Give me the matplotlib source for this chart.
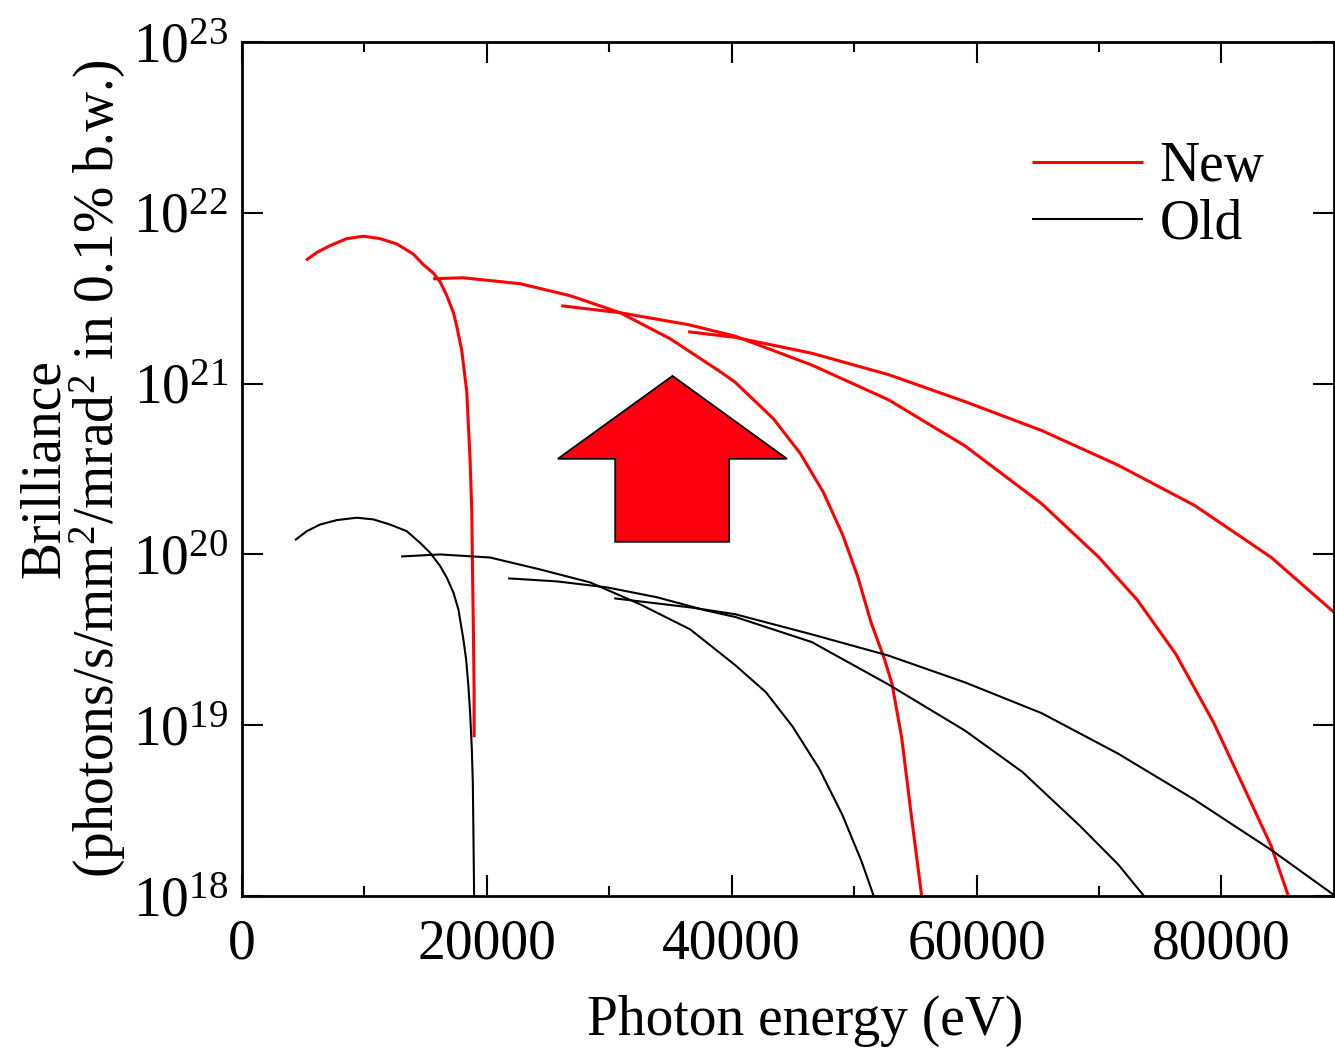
import numpy as np
import matplotlib
matplotlib.use('Agg')
import matplotlib.pyplot as plt
from matplotlib.ticker import FixedLocator, NullLocator, MultipleLocator
from matplotlib.patches import Polygon

plt.rcParams['font.family'] = ['Liberation Serif', 'DejaVu Serif']
plt.rcParams['mathtext.fontset'] = 'custom'
plt.rcParams['mathtext.rm'] = 'Liberation Serif'
plt.rcParams['mathtext.it'] = 'Liberation Serif:italic'
plt.rcParams['mathtext.default'] = 'regular'

# Data: photon energy (eV), log10 of brilliance
# New source, harmonics 1..4
new1_e = [5230, 6104, 7190, 8555, 9910, 11276, 12640, 13997, 14810, 15631, 16180, 16726,
          17270, 17543, 17950, 18083, 18360, 18492, 18630, 18769, 18820, 18900, 18957, 18957]
new1_lg = [21.722, 21.768, 21.808, 21.849, 21.863, 21.849, 21.818, 21.758, 21.697, 21.647, 21.596, 21.516,
           21.415, 21.335, 21.193, 21.113, 20.952, 20.751, 20.550, 20.247, 19.945, 19.543, 19.2, 18.93]

new2_e = [15610, 18060, 22720, 26800, 30890, 34970, 39060, 40283, 43413, 45603, 47474, 49042,
          50293, 51387, 52482, 53103, 53888, 54664, 55514]
new2_lg = [21.614, 21.620, 21.585, 21.515, 21.415, 21.263, 21.070, 21.008, 20.794, 20.591, 20.365, 20.118,
           19.870, 19.600, 19.386, 19.239, 18.924, 18.474, 18.0]

new3_e = [26070, 30890, 36470, 40283, 46534, 52793, 59044, 65303, 69993, 73114, 76244, 79373,
          81873, 84063, 85469]
new3_lg = [21.456, 21.415, 21.345, 21.278, 21.109, 20.906, 20.636, 20.298, 19.983, 19.735, 19.420, 19.014,
           18.631, 18.293, 18.0]

new4_e = [36440, 40283, 46534, 52793, 59044, 65303, 71553, 77804, 84063, 89310]
new4_lg = [21.304, 21.271, 21.178, 21.053, 20.895, 20.726, 20.523, 20.287, 19.983, 19.654]

# Old source, harmonics 1..4
old1_e = [4330, 5287, 6370, 7738, 9370, 10729, 12090, 13458, 14540, 15361, 16180, 16726, 17270,
          17674, 18080, 18303, 18490, 18630, 18770, 18851, 18900, 18957]
old1_lg = [20.084, 20.136, 20.175, 20.201, 20.215, 20.205, 20.175, 20.136, 20.068, 20.010, 19.932, 19.864, 19.776,
           19.678, 19.503, 19.386, 19.230, 19.074, 18.860, 18.665, 18.372, 18.0]

old2_e = [12990, 16180, 20260, 24350, 28440, 32520, 36610, 40283, 42783, 44973, 47163, 49042, 50603, 51600]
old2_lg = [19.988, 20.0, 19.982, 19.912, 19.836, 19.708, 19.561, 19.352, 19.194, 18.992, 18.744, 18.474, 18.203, 18.0]

old3_e = [21740, 25740, 29820, 33910, 37830, 40283, 46534, 52793, 59044, 63734, 68424, 71553, 73678]
old3_lg = [19.860, 19.842, 19.807, 19.749, 19.673, 19.634, 19.487, 19.239, 18.969, 18.727, 18.412, 18.186, 18.0]

old4_e = [30400, 36610, 40283, 46534, 52793, 59044, 65303, 71553, 77804, 84063, 89310]
old4_lg = [19.743, 19.690, 19.650, 19.532, 19.408, 19.251, 19.071, 18.834, 18.564, 18.270, 18.0]

# big up-arrow outline (energy, log10 brilliance)
arrow_e = [35160, 44510, 39790, 39790, 30480, 30480, 25800]
arrow_lg = [21.045, 20.560, 20.560, 20.074, 20.074, 20.560, 20.560]

xtick_vals = [0, 20000, 40000, 60000, 80000]

fig = plt.figure(figsize=(13.35, 10.48), dpi=100)
ax = fig.add_axes([0.1813, 0.145, 0.8180, 0.8149])

new_sets = [(new1_e, new1_lg), (new2_e, new2_lg), (new3_e, new3_lg), (new4_e, new4_lg)]
old_sets = [(old1_e, old1_lg), (old2_e, old2_lg), (old3_e, old3_lg), (old4_e, old4_lg)]

for i, (e, lg) in enumerate(new_sets):
    ax.plot(e, 10 ** np.array(lg), color='#ff0000', lw=2.2,
            label='New' if i == 0 else None, solid_capstyle='butt')
for i, (e, lg) in enumerate(old_sets):
    ax.plot(e, 10 ** np.array(lg), color='black', lw=1.5,
            label='Old' if i == 0 else None, solid_capstyle='butt')

arrow_xy = np.column_stack([arrow_e, 10 ** np.array(arrow_lg)])
ax.add_patch(Polygon(arrow_xy, closed=True, facecolor='#ff0011',
                     edgecolor='black', lw=1.3, zorder=3))

ax.set_yscale('log')
ax.set_xlim(0, 89200)
ax.set_ylim(1e18, 1e23)

ax.xaxis.set_major_locator(FixedLocator(xtick_vals))
ax.xaxis.set_minor_locator(MultipleLocator(10000))
ax.set_xticklabels([str(v) for v in xtick_vals])
ax.yaxis.set_major_locator(FixedLocator([1e18, 1e19, 1e20, 1e21, 1e22, 1e23]))
ax.yaxis.set_minor_locator(NullLocator())

ax.tick_params(which='both', direction='in', top=True, right=True,
               labelsize=40, width=1.5)
ax.tick_params(which='major', length=15, pad=10)
ax.tick_params(axis='x', which='major', pad=16)
ax.tick_params(which='minor', length=7.5)
for s in ax.spines.values():
    s.set_linewidth(2.0)

ax.set_xlabel('Photon energy (eV)', fontsize=40)
ax.xaxis.set_label_coords(0.5156, -0.116)
ax.set_ylabel('Brilliance\n(photons/s/mm$^2$/mrad$^2$ in 0.1% b.w.)',
              fontsize=40, linespacing=0.95)
ax.yaxis.set_label_coords(-0.104, 0.5)

ax.legend(loc='upper left', bbox_to_anchor=(0.723, 0.884), frameon=False,
          fontsize=40, handlelength=2.0, handletextpad=0.3,
          labelspacing=0.1, borderpad=0, borderaxespad=0)

fig.savefig('out.png', dpi=100)
